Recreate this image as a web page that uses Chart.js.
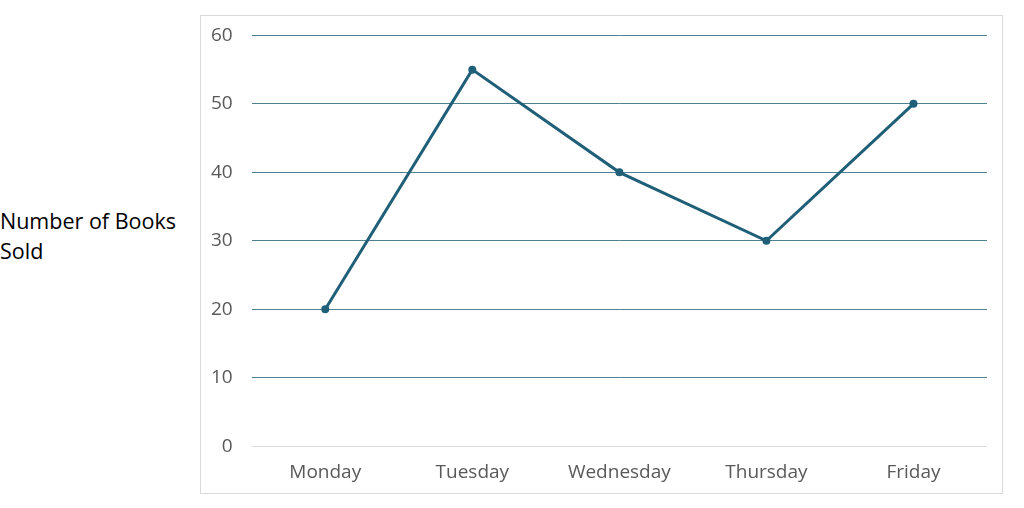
<!DOCTYPE html>
<html>
<head>
<meta charset="utf-8">
<script src="https://cdn.jsdelivr.net/npm/chart.js@4"></script>
<style>
  html, body { margin: 0; padding: 0; background: #ffffff; width: 1024px; height: 508px; overflow: hidden; position: relative; }
  #ytitle { position: absolute; left: 0; top: 206px; font-family: "Open Sans", sans-serif; font-size: 21.5px; line-height: 30px; color: #000000; width: 198px; white-space: nowrap; }
  #box { position: absolute; left: 200px; top: 15px; width: 803px; height: 479px; border: 1px solid #d9d9d9; box-sizing: border-box; }
  #c { position: absolute; left: 192px; top: 5px; display: block; }
</style>
</head>
<body>
<div id="ytitle">Number of Books<br>Sold</div>
<div id="box"></div>
<canvas id="c" width="810" height="493"></canvas>
<script>
const categories = ["Monday", "Tuesday", "Wednesday", "Thursday", "Friday"];
const booksSold = [20, 55, 40, 30, 50];
const yTicks = [0, 10, 20, 30, 40, 50, 60];

const lineColor = "#1f5f78";
new Chart(document.getElementById("c"), {
  type: "line",
  data: {
    labels: categories,
    datasets: [{
      label: "Number of Books Sold",
      data: booksSold,
      borderColor: lineColor,
      backgroundColor: lineColor,
      borderWidth: 3,
      pointRadius: 4,
      pointBackgroundColor: lineColor,
      pointBorderWidth: 0,
      tension: 0
    }]
  },
  options: {
    responsive: false,
    animation: false,
    layout: { padding: { left: 0, right: 15, top: 0, bottom: 0 } },
    plugins: { legend: { display: false }, tooltip: { enabled: false } },
    scales: {
      x: {
        offset: true,
        grid: { display: false, drawTicks: false },
        border: { display: false },
        ticks: { color: "#595959", padding: 14.5, font: { family: "Open Sans", size: 19 } }
      },
      y: {
        min: yTicks[0],
        max: yTicks[yTicks.length - 1],
        afterBuildTicks: (axis) => { axis.ticks = yTicks.map(v => ({ value: v })); },
        grid: {
          drawTicks: false,
          lineWidth: 1,
          color: (ctx) => ctx.tick && ctx.tick.value === 0 ? "#d9d9d9" : "#4f8190"
        },
        border: { display: false },
        ticks: { color: "#595959", padding: 19, font: { family: "Open Sans", size: 19 } }
      }
    }
  }
});
</script>
</body>
</html>
